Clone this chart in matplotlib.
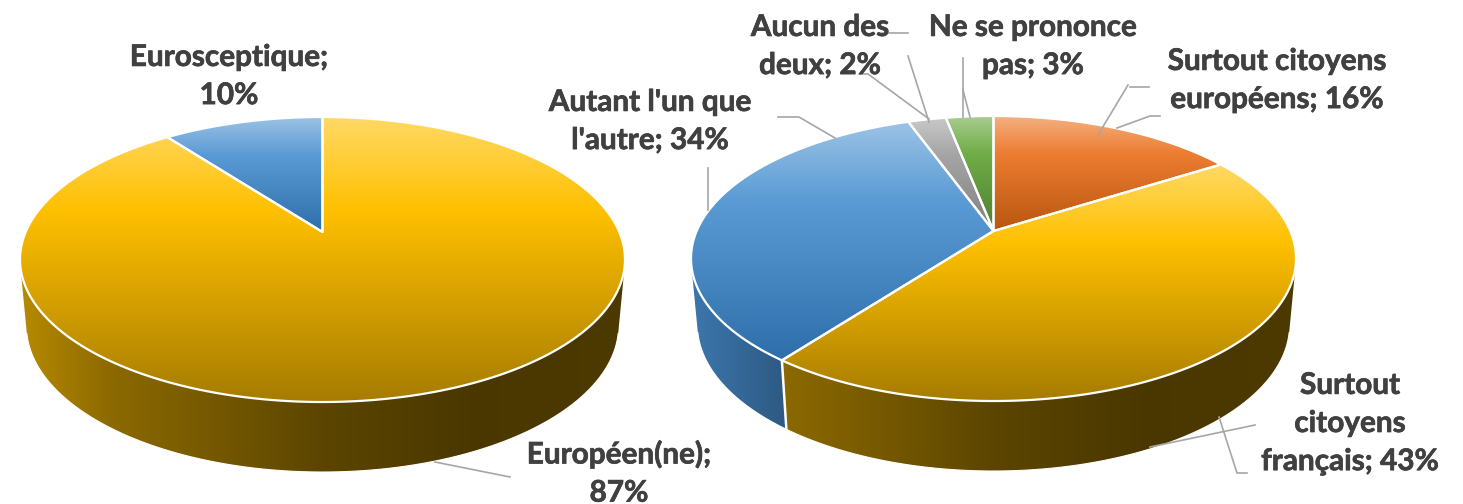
import numpy as np
import matplotlib
matplotlib.use('Agg')
import matplotlib.pyplot as plt
import matplotlib.patheffects as pe
from matplotlib.colors import to_rgb
from matplotlib.patches import Polygon

plt.rcParams['font.family'] = ['Lato', 'DejaVu Sans']

#values of the two pies, clockwise from the top
left_values = [87, 10]
left_labels = ['Européen(ne);\n87%', 'Eurosceptique;\n10%']
left_colors = ['#FFC000', '#5B9BD5']
#labels are rounded, the slices read a little finer than that
right_values = [15.7, 43.4, 33.5, 2.4, 3.0]
right_labels = ['Surtout citoyens\neuropéens; 16%', 'Surtout\ncitoyens\nfrançais; 43%',
                "Autant l'un que\nl'autre; 34%", 'Aucun des\ndeux; 2%', 'Ne se prononce\npas; 3%']
right_colors = ['#ED7D31', '#FFC000', '#5B9BD5', '#A5A5A5', '#70AD47']

#dark end of the gradient for each colour
dark_colors = {'#FFC000': '#A67C00', '#5B9BD5': '#2E6FAB', '#ED7D31': '#B9560F',
               '#A5A5A5': '#7F7F7F', '#70AD47': '#4F7F30'}

#label centres in pixels
left_label_pos = [(619, 473), (229, 76)]
right_label_pos = [(1277, 80), (1350, 423), (650, 121), (820, 46), (1033, 46)]

#leader lines, pixels
leaders = [
    [(435, 462), (510, 477)],
    [(778, 117), (799, 117), (835, 138)],
    [(708, 168), (708, 210)],
    [(881, 33), (908, 33)],
    [(908, 56), (929, 122)],
    [(860, 74), (868, 74), (929, 119)],
    [(963, 58), (963, 117)],
    [(963, 90), (970, 117)],
    [(1130, 87), (1149, 87)],
    [(1128, 85), (1098, 135)],
    [(1160, 116), (1150, 116), (1117, 128)],
    [(1255, 425), (1150, 447)],
    [(1219, 417), (1237, 473), (1247, 473)],
]

K = 0.193  #perspective of the disc
TOP_A, TOP_C = 296.8, 137.2
BOT_A, BOT_C, BOT_DY = 290.5, 140.6, 65.8
FRONT = np.radians([104, 256])  #part of the rim seen from the front


def project(theta, cx, y0, a, c):
    d = 1 + K * np.cos(theta)
    return cx + a * np.sin(theta) / d, y0 - c * np.cos(theta) / d


def top_gradient(base):
    #light at the top of the slice, base colour, then dark at the bottom
    dark = np.array(to_rgb(dark_colors[base]))
    base = np.array(to_rgb(base))
    light = base + (1 - base) * 0.4
    t = np.linspace(0, 1, 256)
    return np.stack([np.interp(t, [0, 0.33, 1], [light[i], base[i], dark[i]]) for i in range(3)], axis=1)[:, None, :]


def wall_gradient(base, x0, x1, cx):
    base = np.array(to_rgb(base))
    if base[2] > base[0]:
        base = np.array([0.33, 0.65, 0.95])
    xs = np.linspace(x0, x1, 256)
    t = (xs - (cx - 303)) / 606
    f = np.interp(t, [0, 0.15, 0.5, 0.75, 1], [0.72, 0.55, 0.36, 0.29, 0.30])
    return (base[None, :] * f[:, None])[None, :, :]


def draw_pie(ax, values, colors, cx, y0):
    edges = np.cumsum([0] + values) / sum(values) * 2 * np.pi
    y0_bot = y0 + BOT_DY
    #walls first, only the front of each slice
    for i, color in enumerate(colors):
        start, stop = max(edges[i], FRONT[0]), min(edges[i + 1], FRONT[1])
        if start >= stop:
            continue
        th = np.linspace(start, stop, 200)
        xt, yt = project(th, cx, y0, TOP_A, TOP_C)
        xb, yb = project(th, cx, y0_bot, BOT_A, BOT_C)
        poly = np.column_stack([np.r_[xt, xb[::-1]], np.r_[yt, yb[::-1]]])
        patch = Polygon(poly, closed=True, fc='none', ec='none', zorder=1)
        ax.add_patch(patch)
        x0, x1 = poly[:, 0].min(), poly[:, 0].max()
        im = ax.imshow(wall_gradient(color, x0, x1, cx), extent=[x0, x1, poly[:, 1].max(), poly[:, 1].min()],
                       aspect='auto', interpolation='bilinear', zorder=1)
        im.set_clip_path(patch)
        ax.plot(xb, yb, color='white', lw=0.8, zorder=1.5)
    #white seams on the front of the wall
    for e in edges[:-1]:
        if FRONT[0] < e < FRONT[1]:
            xt, yt = project(e, cx, y0, TOP_A, TOP_C)
            xb, yb = project(e, cx, y0_bot, BOT_A, BOT_C)
            ax.plot([xt, xb], [yt, yb], color='white', lw=1.8, zorder=1.6)
    #top surface
    for i, color in enumerate(colors):
        th = np.linspace(edges[i], edges[i + 1], 300)
        x, y = project(th, cx, y0, TOP_A, TOP_C)
        poly = np.column_stack([np.r_[cx, x], np.r_[y0, y]])
        patch = Polygon(poly, closed=True, fc='none', ec='none', zorder=2)
        ax.add_patch(patch)
        im = ax.imshow(top_gradient(color), extent=[poly[:, 0].min(), poly[:, 0].max(), poly[:, 1].max(), poly[:, 1].min()],
                       aspect='auto', interpolation='bilinear', zorder=2)
        im.set_clip_path(patch)
        ax.add_patch(Polygon(poly, closed=True, fc='none', ec='white', lw=1.6, joinstyle='round', zorder=3))


fig = plt.figure(figsize=(14.63, 5.04), dpi=100)
ax = fig.add_axes([0, 0, 1, 1])

draw_pie(ax, left_values, left_colors, 322.5, 232)
draw_pie(ax, right_values, right_colors, 993.5, 231)

for pts in leaders:
    ax.plot(*zip(*pts), color='#A6A6A6', lw=1.2, zorder=4)

for label, pos in zip(left_labels + right_labels, left_label_pos + right_label_pos):
    ax.text(pos[0], pos[1], label, ha='center', va='center', fontsize=21.4, fontweight='bold',
            color='#404040', linespacing=1.44, zorder=5,
            path_effects=[pe.withStroke(linewidth=0.5, foreground='#404040')])

ax.set_xlim(0, 1463)
ax.set_ylim(504, 0)
ax.axis('off')

fig.savefig('out.png', dpi=100)
